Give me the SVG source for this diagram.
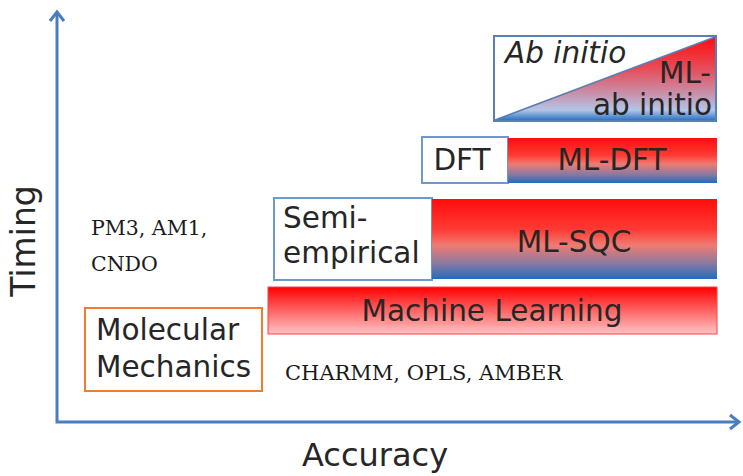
<svg xmlns="http://www.w3.org/2000/svg" width="743" height="476" viewBox="0 0 743 476">
<defs>
<style>
.t{font-family:"DejaVu Sans","Liberation Sans",sans-serif;fill:#262626;font-size:29.5px}
.s{font-family:"DejaVu Serif","Liberation Serif",serif;fill:#1a1a1a;font-size:20.5px}
.ax{stroke:#4a7cc0;stroke-width:3;fill:none}
.wb{fill:#fff;stroke:#6f98cf;stroke-width:2}
</style>
<linearGradient id="gRB" x1="0" y1="0" x2="0" y2="1">
<stop offset="0" stop-color="#ff0d0d"/>
<stop offset="0.38" stop-color="#ff3a34"/>
<stop offset="0.58" stop-color="#ef7b72"/>
<stop offset="0.8" stop-color="#8c7aa0"/>
<stop offset="1" stop-color="#1f6cc0"/>
</linearGradient>
<linearGradient id="gAI" x1="0" y1="0" x2="0" y2="1">
<stop offset="0" stop-color="#ff0d0d"/>
<stop offset="0.4" stop-color="#e5505c"/>
<stop offset="0.7" stop-color="#c695b0"/>
<stop offset="0.88" stop-color="#b4c6e6"/>
<stop offset="1" stop-color="#2f74c6"/>
</linearGradient>
<linearGradient id="gML" x1="0" y1="0" x2="0" y2="1">
<stop offset="0" stop-color="#ff0000"/>
<stop offset="0.45" stop-color="#ff5a5a"/>
<stop offset="1" stop-color="#ffc4c4"/>
</linearGradient>
</defs>

<g id="connectors">
<path class="ax" d="M57,12 V422 H739"/>
<polyline class="ax" points="50,21 57,12 64,21"/>
<polyline class="ax" points="730,415 739,422 730,429"/>
</g>

<g id="axis-labels">
<text class="t" x="302" y="466" style="font-size:32px">Accuracy</text>
<text class="t" transform="translate(35,241) rotate(-90)" text-anchor="middle" style="font-size:33px">Timing</text>
</g>

<g id="ab-initio">
<rect x="494" y="36" width="222" height="85" fill="#fff" stroke="#5a7fb2" stroke-width="2"/>
<polygon points="495,120 715,37 715,120" fill="url(#gAI)"/>
<line x1="495" y1="120" x2="715" y2="37" stroke="#5a7fb2" stroke-width="1.5"/>
<text class="t" x="505" y="63" font-style="italic">Ab initio</text>
<text class="t" x="711" y="83" text-anchor="end">ML-</text>
<text class="t" x="712" y="115" text-anchor="end">ab initio</text>
</g>

<g id="dft">
<rect class="wb" x="422" y="137" width="86" height="46"/>
<text class="t" x="462" y="170" text-anchor="middle">DFT</text>
</g>
<g id="ml-dft">
<rect x="508" y="138" width="209" height="45" fill="url(#gRB)"/>
<text class="t" x="612" y="170" text-anchor="middle">ML-DFT</text>
</g>

<g id="semi-empirical">
<rect class="wb" x="274" y="198" width="158" height="82"/>
<text class="t" x="283" y="228">Semi-</text>
<text class="t" x="283" y="263">empirical</text>
</g>
<g id="ml-sqc">
<rect x="432" y="199" width="285" height="80" fill="url(#gRB)"/>
<text class="t" x="574" y="252" text-anchor="middle">ML-SQC</text>
</g>

<g id="machine-learning">
<rect x="268" y="287" width="449" height="47" fill="url(#gML)" stroke="#ff4040" stroke-width="1"/>
<text class="t" x="492" y="321" text-anchor="middle">Machine Learning</text>
</g>

<g id="molecular-mechanics">
<rect x="85" y="308" width="177" height="83" fill="#fff" stroke="#ed7d31" stroke-width="2"/>
<text class="t" x="96" y="340">Molecular</text>
<text class="t" x="96" y="377">Mechanics</text>
</g>

<g id="semi-examples">
<text class="s" x="91" y="235">PM3, AM1,</text>
<text class="s" x="91" y="271">CNDO</text>
</g>

<g id="mm-examples">
<text class="s" x="285" y="380" style="font-size:21px">CHARMM, OPLS, AMBER</text>
</g>
</svg>
